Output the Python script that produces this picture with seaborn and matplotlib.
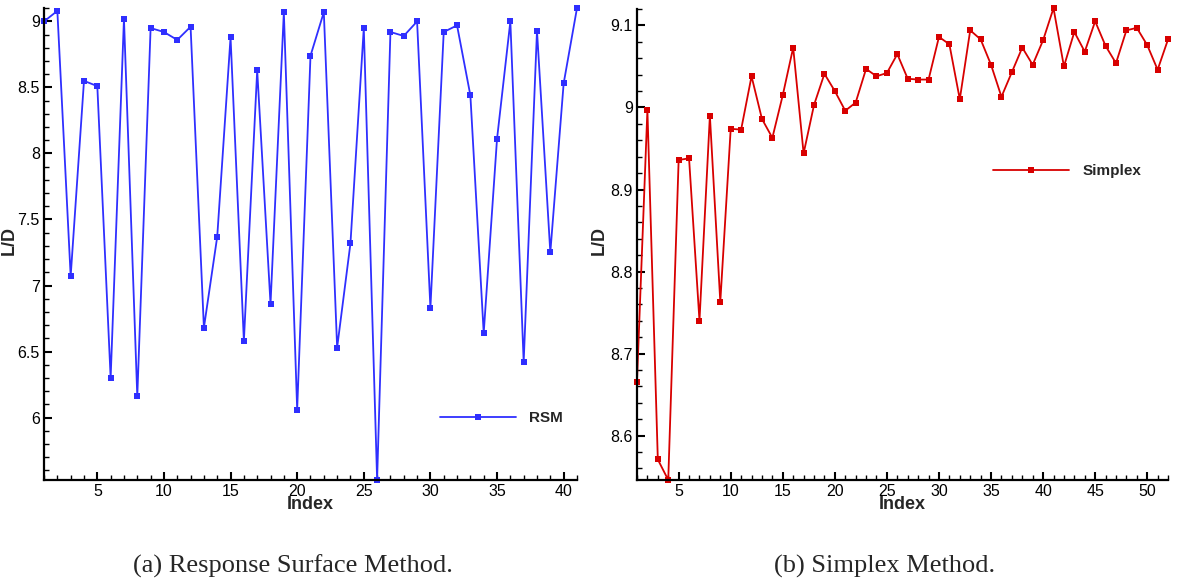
import numpy as np
import pandas as pd
import matplotlib
matplotlib.use("Agg")
import matplotlib.pyplot as plt
from matplotlib.ticker import MultipleLocator, FormatStrFormatter
import seaborn as sns

# L/D history for each optimisation run
rsm_index = list(range(1, 42))
rsm_ld = [9.00, 9.08, 7.07, 8.55, 8.51, 6.30, 9.02, 6.16, 8.95, 8.92,
          8.86, 8.96, 6.68, 7.37, 8.88, 6.58, 8.63, 6.86, 9.07, 6.06,
          8.74, 9.07, 6.53, 7.32, 8.95, 5.53, 8.92, 8.89, 9.00, 6.83,
          8.92, 8.97, 8.44, 6.64, 8.11, 9.00, 6.42, 8.93, 7.25, 8.53,
          9.10]

simplex_index = list(range(1, 53))
simplex_ld = [8.666, 8.997, 8.571, 8.546, 8.936, 8.938, 8.740, 8.990, 8.763, 8.974,
              8.973, 9.038, 8.986, 8.963, 9.015, 9.073, 8.944, 9.003, 9.041, 9.020,
              8.996, 9.006, 9.047, 9.038, 9.042, 9.065, 9.035, 9.034, 9.034, 9.086,
              9.077, 9.010, 9.094, 9.083, 9.052, 9.013, 9.043, 9.073, 9.052, 9.082,
              9.121, 9.050, 9.092, 9.068, 9.105, 9.075, 9.054, 9.094, 9.097, 9.076,
              9.046, 9.083]

captions = ["(a) Response Surface Method.", "(b) Simplex Method."]

sns.set_style("ticks")
plt.rcParams["font.family"] = ["Liberation Sans", "DejaVu Sans"]

fig = plt.figure(figsize=(11.77, 5.88), dpi=100)
ax1 = fig.add_axes([0.0374, 0.1837, 0.4528, 0.8023])
ax2 = fig.add_axes([0.5412, 0.1837, 0.4512, 0.8010])

df1 = pd.DataFrame({"Index": rsm_index, "L/D": rsm_ld})
df2 = pd.DataFrame({"Index": simplex_index, "L/D": simplex_ld})

sns.lineplot(data=df1, x="Index", y="L/D", ax=ax1, color="#2f2fff", lw=1.3,
             marker="s", markersize=5, markeredgewidth=0, label="RSM")
sns.lineplot(data=df2, x="Index", y="L/D", ax=ax2, color="#d80000", lw=1.3,
             marker="s", markersize=5, markeredgewidth=0, label="Simplex")

for line in ax1.lines + ax2.lines:
    line.set_clip_on(False)

ax1.set_xlim(1, 41)
ax1.set_ylim(5.527, 9.1)
ax1.xaxis.set_major_locator(MultipleLocator(5))
ax1.xaxis.set_minor_locator(MultipleLocator(1))
ax1.yaxis.set_major_locator(MultipleLocator(0.5))
ax1.yaxis.set_minor_locator(MultipleLocator(0.1))
ax1.yaxis.set_major_formatter(FormatStrFormatter("%g"))

ax2.set_xlim(1, 52)
ax2.set_ylim(8.546, 9.12)
ax2.xaxis.set_major_locator(MultipleLocator(5))
ax2.xaxis.set_minor_locator(MultipleLocator(1))
ax2.yaxis.set_major_locator(MultipleLocator(0.1))
ax2.yaxis.set_minor_locator(MultipleLocator(0.02))
ax2.yaxis.set_major_formatter(FormatStrFormatter("%g"))

legend_pos = [(0.743, 0.131), (0.670, 0.656)]
ylabel_x = [-0.049, -0.055]
for ax, pos, lx in zip([ax1, ax2], legend_pos, ylabel_x):
    sns.despine(ax=ax)
    for s in ["left", "bottom"]:
        ax.spines[s].set_linewidth(1.6)
        ax.spines[s].set_color("black")
    ax.tick_params(which="major", direction="in", length=6, width=1.5,
                   labelsize=11.5, pad=3, colors="black")
    ax.tick_params(which="minor", direction="in", length=3.5, width=1.0,
                   colors="black")
    ax.set_xlabel("Index", fontsize=13, fontweight="bold")
    ax.set_ylabel("L/D", fontsize=13, fontweight="bold")
    ax.xaxis.set_label_coords(0.5, -0.033)
    ax.yaxis.set_label_coords(lx, 0.508)
    ax.grid(False)
    ax.legend(loc="center left", bbox_to_anchor=pos, frameon=False,
              borderpad=0, borderaxespad=0, handlelength=5.0,
              handletextpad=0.85, prop={"weight": "bold", "size": 11})

fig.text(0.2485, 0.037, captions[0], ha="center", va="center",
         family=["Liberation Serif"], fontsize=19)
fig.text(0.7512, 0.037, captions[1], ha="center", va="center",
         family=["Liberation Serif"], fontsize=19)

fig.savefig("out.png", dpi=100)
